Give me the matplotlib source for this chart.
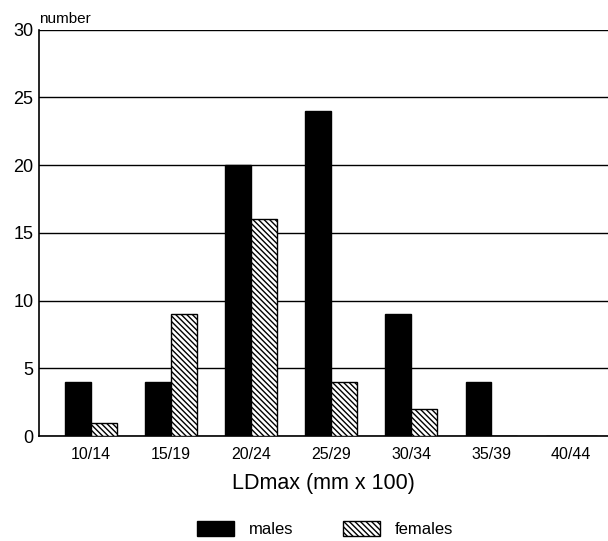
import numpy as np
import matplotlib.pyplot as plt
from matplotlib.patches import Patch

plt.rcParams['font.family'] = ['Liberation Sans', 'DejaVu Sans']
plt.rcParams['hatch.linewidth'] = 1.0

categories = ["10/14", "15/19", "20/24", "25/29", "30/34", "35/39", "40/44"]
males = [4, 4, 20, 24, 9, 4, 0]
females = [1, 9, 16, 4, 2, 0, 0]

fig = plt.figure(figsize=(6.08, 5.41), dpi=100)
ax = fig.add_axes([0.064, 0.194, 0.936, 0.751])

x = np.arange(len(categories))
w = 0.32
hatch = '\\\\\\\\\\\\'
ax.bar(x - w / 2, males, w, color='black', edgecolor='black', zorder=3)
ax.bar(x + w / 2, females, w, color='white', edgecolor='black', hatch=hatch, linewidth=1, zorder=3)

ax.set_ylim(0, 30)
ax.set_xlim(-0.65, 6.46)
ax.set_yticks(range(0, 31, 5))
ax.yaxis.grid(True, color='black', linewidth=1, zorder=0)
ax.set_xticks(x)
ax.set_xticklabels(categories, fontsize=11.5)
ax.tick_params(axis='y', labelsize=13, length=0, pad=4)
ax.tick_params(axis='x', length=0, pad=8)
for s in ['top', 'right']:
    ax.spines[s].set_visible(False)
ax.spines['left'].set_linewidth(1.2)
ax.spines['bottom'].set_linewidth(1.2)

ax.text(0.0, 1.01, "number", transform=ax.transAxes, fontsize=11, ha='left', va='bottom')
ax.set_xlabel("LDmax (mm x 100)", fontsize=15.5, labelpad=8)

handles = [Patch(facecolor='black', edgecolor='black', label='males'),
           Patch(facecolor='white', edgecolor='black', hatch=hatch, label='females')]
fig.legend(handles=handles, loc='center', bbox_to_anchor=(0.535, 0.022), ncol=2, frameon=False,
           fontsize=12, handlelength=2.2, handleheight=1.0, handletextpad=0.9, columnspacing=3.0)

fig.savefig("out.png", dpi=100)
